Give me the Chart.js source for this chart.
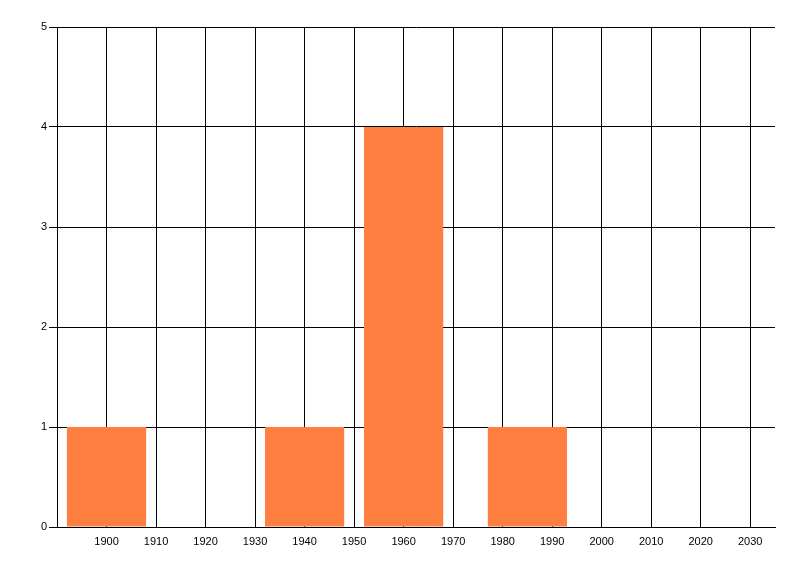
<!DOCTYPE html>
<html lang="en">
<head>
    <meta charset="UTF-8">
    <title>Histogram</title>
    <script src="https://cdn.jsdelivr.net/npm/chart.js"></script>
    <style>
        html, body { margin: 0; padding: 0; background: #fff; }
        #wrap { width: 800px; height: 576px; }
    </style>
</head>
<body>
    <div id="wrap"><canvas id="histChart" width="800" height="576"></canvas></div>

    <script>
        // bar centres (years) and their counts
        const years = [1900, 1940, 1960, 1985];
        const counts = [1, 1, 4, 1];
        const xMin = 1890;
        const xMax = 2035;
        const xTicks = [1890, 1900, 1910, 1920, 1930, 1940, 1950, 1960, 1970, 1980, 1990, 2000, 2010, 2020, 2030];
        const yTicks = [0, 1, 2, 3, 4, 5];

        const ctx = document.getElementById('histChart').getContext('2d');
        const chart = new Chart(ctx, {
            type: 'bar',
            data: {
                datasets: [{
                    label: 'Count',
                    data: years.map((yr, i) => ({ x: yr, y: counts[i] })),
                    backgroundColor: '#ff7f40',
                    borderWidth: 0,
                    // ruler is one 10-year tick step, bars span 16 years
                    barPercentage: 1.6,
                    categoryPercentage: 1
                }]
            },
            options: {
                responsive: false,
                animation: false,
                layout: { padding: { left: 0, top: 27, right: 25, bottom: 0 } },
                plugins: {
                    legend: { display: false },
                    tooltip: { enabled: false }
                },
                scales: {
                    x: {
                        type: 'linear',
                        offset: false,
                        min: xMin,
                        max: xMax,
                        afterBuildTicks: s => {
                            s.ticks = xTicks.map(v => ({ value: v }));
                        },
                        afterFit: s => { s.height = 49; },
                        ticks: {
                            autoSkip: false,
                            maxRotation: 0,
                            padding: 8,
                            color: '#000',
                            font: { family: 'Liberation Sans', size: 11 },
                            callback: v => (v === xMin ? '' : String(v))
                        },
                        grid: { offset: false, color: '#000', lineWidth: 1, tickLength: 0 },
                        border: { display: true, color: '#000', width: 1 }
                    },
                    y: {
                        min: yTicks[0],
                        max: yTicks[yTicks.length - 1],
                        afterFit: s => { s.width = 57; },
                        ticks: {
                            stepSize: 1,
                            padding: 2,
                            color: '#000',
                            font: { family: 'Liberation Sans', size: 11 }
                        },
                        grid: { color: '#000', lineWidth: 1, tickLength: 8 },
                        border: { display: true, color: '#000', width: 1 }
                    }
                }
            }
        });
    </script>
</body>
</html>
